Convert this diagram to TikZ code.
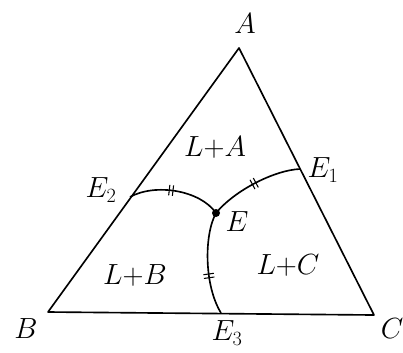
\documentclass[tikz,border=0pt]{standalone}
\usepackage{amsmath}
\usetikzlibrary{decorations.markings}
\tikzset{
  edge/.style={line width=1.4pt, draw=black, line join=round},
  valley/.style={line width=1.4pt, draw=black,
    postaction={decorate, decoration={markings,
      mark=at position #1 with {\draw[line width=0.9pt] (-1.6pt,-4.5pt) -- (-1.6pt,4.5pt) (1.6pt,-4.5pt) -- (1.6pt,4.5pt);}}}},
  lbl/.style={font=\fontsize{23}{27}\selectfont, inner sep=1pt},
  field/.style={font=\fontsize{24}{28}\selectfont}
}
\begin{document}
\begin{tikzpicture}[x=0.03cm, y=-0.03cm]
  \useasboundingbox (0,0) rectangle (403,352);
  % corners and invariant points
  \coordinate (a) at (239,48);
  \coordinate (b) at (48,312);
  \coordinate (c) at (374,315);
  \coordinate (e1) at (300,169);
  \coordinate (e2) at (130,197);
  \coordinate (e3) at (221,313);
  \coordinate (e) at (216,213);

  \draw[edge] (a) -- (b) -- (c) -- cycle;

  \draw[valley=0.45] (e2) .. controls (155,183) and (200,190) .. (e);
  \draw[valley=0.5] (e) .. controls (235,190) and (275,170) .. (e1);
  \draw[valley=0.62] (e) .. controls (204,235) and (204,285) .. (e3);
  \fill (e) circle (4);

  \node[lbl] (la) at (245,24) {$A$};
  \node[lbl] (lb) at (26,329) {$B$};
  \node[lbl] (lc) at (392,329) {$C$};
  \node[lbl] (le1) at (323,170) {$E_1$};
  \node[lbl] (le2) at (101,190) {$E_2$};
  \node[lbl] (le3) at (227,333) {$E_3$};
  \node[lbl] (le) at (237,222) {$E$};

  \node[field] (fa) at (215,147) {$L{+}A$};
  \node[field] (fb) at (135,275) {$L{+}B$};
  \node[field] (fc) at (288,265) {$L{+}C$};
\end{tikzpicture}
\end{document}
